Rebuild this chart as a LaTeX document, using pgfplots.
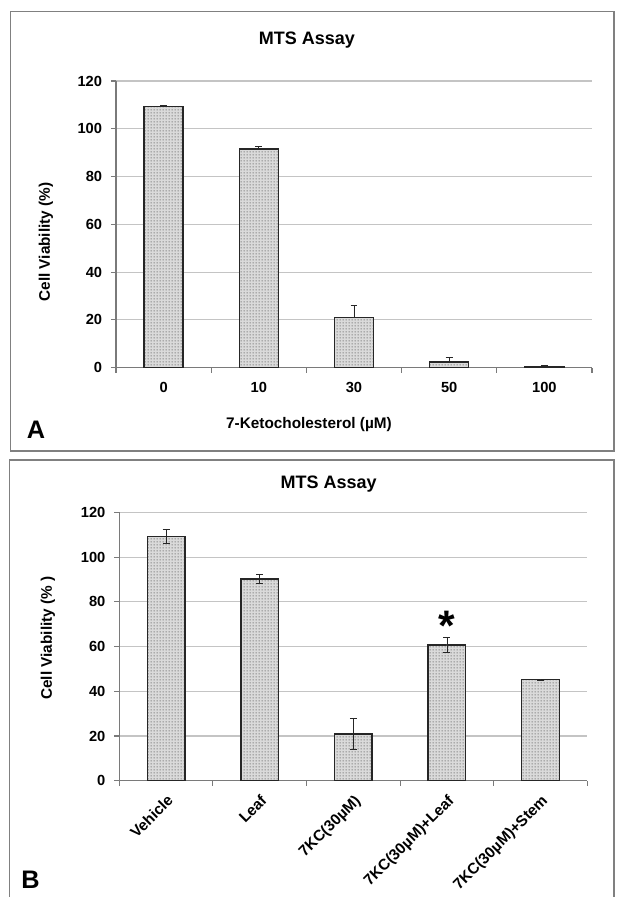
\documentclass[border=0pt]{standalone}
\usepackage{fontspec}
\setmainfont{Liberation Sans}
\usepackage{pgfplots}
\pgfplotsset{compat=1.18}
\usetikzlibrary{patterns}
\definecolor{barfill}{HTML}{DADADA}
\definecolor{dotc}{HTML}{555555}
\definecolor{gridc}{HTML}{C4C4C4}
\definecolor{axisc}{HTML}{7A7A7A}
\definecolor{borderc}{HTML}{808080}
\pgfdeclarepatternformonly{finedots}{\pgfqpoint{0pt}{0pt}}{\pgfqpoint{2.25pt}{2.25pt}}{\pgfqpoint{2.25pt}{2.25pt}}{%
  \pgfpathcircle{\pgfqpoint{1.125pt}{1.125pt}}{0.6pt}%
  \pgfusepath{fill}}
\pgfplotsset{
  mts/.style={
    scale only axis, ybar,
    xmin=-0.5, xmax=4.5, ymin=0, ymax=120,
    enlargelimits=false,
    axis lines=left,
    axis line style={-, draw=axisc, line width=0.8pt},
    tick align=outside, major tick length=3.75pt,
    tick style={draw=axisc, line width=0.8pt},
    ytick={0,20,...,120}, yticklabels={0,20,40,60,80,100,120},
    ymajorgrids, grid style={draw=gridc, line width=0.9pt},
    yticklabel shift=6.5pt,
    yticklabel style={font=\bfseries\fontsize{11}{12}\selectfont, inner sep=0pt, anchor=east},
    xtick={-0.5,0.5,...,4.5}, xticklabels={},
    extra x ticks={0,1,2,3,4},
  },
  barsty/.style={fill=barfill, draw=black!85, line width=1.1pt,
    postaction={pattern=finedots, pattern color=dotc},
    error bars/.cd, y explicit, y dir=#1,
    error bar style={line width=0.6pt, draw=black!85},
    error mark options={rotate=90, mark size=2.6pt, line width=0.6pt, draw=black!85}},
}
\begin{document}
\begin{tikzpicture}
\path[use as bounding box, fill=white] (0,0) rectangle (462.75pt,672.75pt);
\draw[borderc, line width=1pt] (8pt,334.5pt) rectangle (460.5pt,664pt);
\draw[borderc, line width=1pt] (7pt,-3pt) -- (7pt,327.75pt) -- (460.5pt,327.75pt) -- (460.5pt,-3pt);

% Panel A
\begin{axis}[mts, at={(87pt,397pt)}, anchor=south west, width=357pt, height=215pt,
  bar width=29.25pt,
  extra x tick labels={0,10,30,50,100},
  extra x tick style={major tick length=0pt,
    tick label style={font=\bfseries\fontsize{11}{12}\selectfont, inner sep=0pt, anchor=north, yshift=-10.5pt}}]
\addplot[barsty=plus] coordinates {
  (0,109.3) +- (0,0.5)
  (1,91.5) +- (0,1.0)
  (2,21.1) +- (0,5.1)
  (3,2.4) +- (0,1.9)
  (4,0.5) +- (0,0.3)
};
\end{axis}

% Panel B
\begin{axis}[mts, at={(89.5pt,87.2pt)}, anchor=south west, width=351pt, height=201.2pt,
  bar width=28.2pt,
  extra x tick labels={Vehicle,Leaf,7KC(30µM),7KC(30µM)+Leaf,7KC(30µM)+Stem},
  extra x tick style={major tick length=0pt,
    tick label style={font=\bfseries\fontsize{11.5}{13}\selectfont, inner sep=0pt, yshift=-9.4pt, rotate=45, anchor=north east}}]
\addplot[barsty=both] coordinates {
  (0,109.3) +- (0,3.1)
  (1,90.2) +- (0,2.1)
  (2,21.0) +- (0,7.1)
  (3,60.7) +- (0,3.3)
  (4,45.2) +- (0,0.3)
};
\node[font=\bfseries\fontsize{32}{32}\selectfont, anchor=base, inner sep=0pt, yshift=-18.4pt] at (axis cs:3,73.7) {*};
\end{axis}

\node[font=\bfseries\fontsize{13.5}{15}\selectfont, anchor=base] at (230.25pt,639pt) {MTS Assay};
\node[font=\bfseries\fontsize{13.5}{15}\selectfont, anchor=base] at (246.5pt,306.5pt) {MTS Assay};
\node[rotate=90, font=\bfseries\fontsize{11.5}{13}\selectfont] at (34.5pt,491.25pt) {Cell Viability (\%)};
\node[rotate=90, font=\bfseries\fontsize{11.5}{13}\selectfont] at (36pt,194.25pt) {Cell Viability (\% )};
\node[anchor=base, font=\bfseries\fontsize{11.5}{13}\selectfont] at (231.75pt,351.4pt) {7-Ketocholesterol (µM)};
\node[anchor=base west, inner sep=0pt, font=\bfseries\fontsize{19}{22}\selectfont] at (20pt,344pt) {A};
\node[anchor=base west, inner sep=0pt, font=\bfseries\fontsize{19}{22}\selectfont] at (15.8pt,6.5pt) {B};
\end{tikzpicture}
\end{document}
